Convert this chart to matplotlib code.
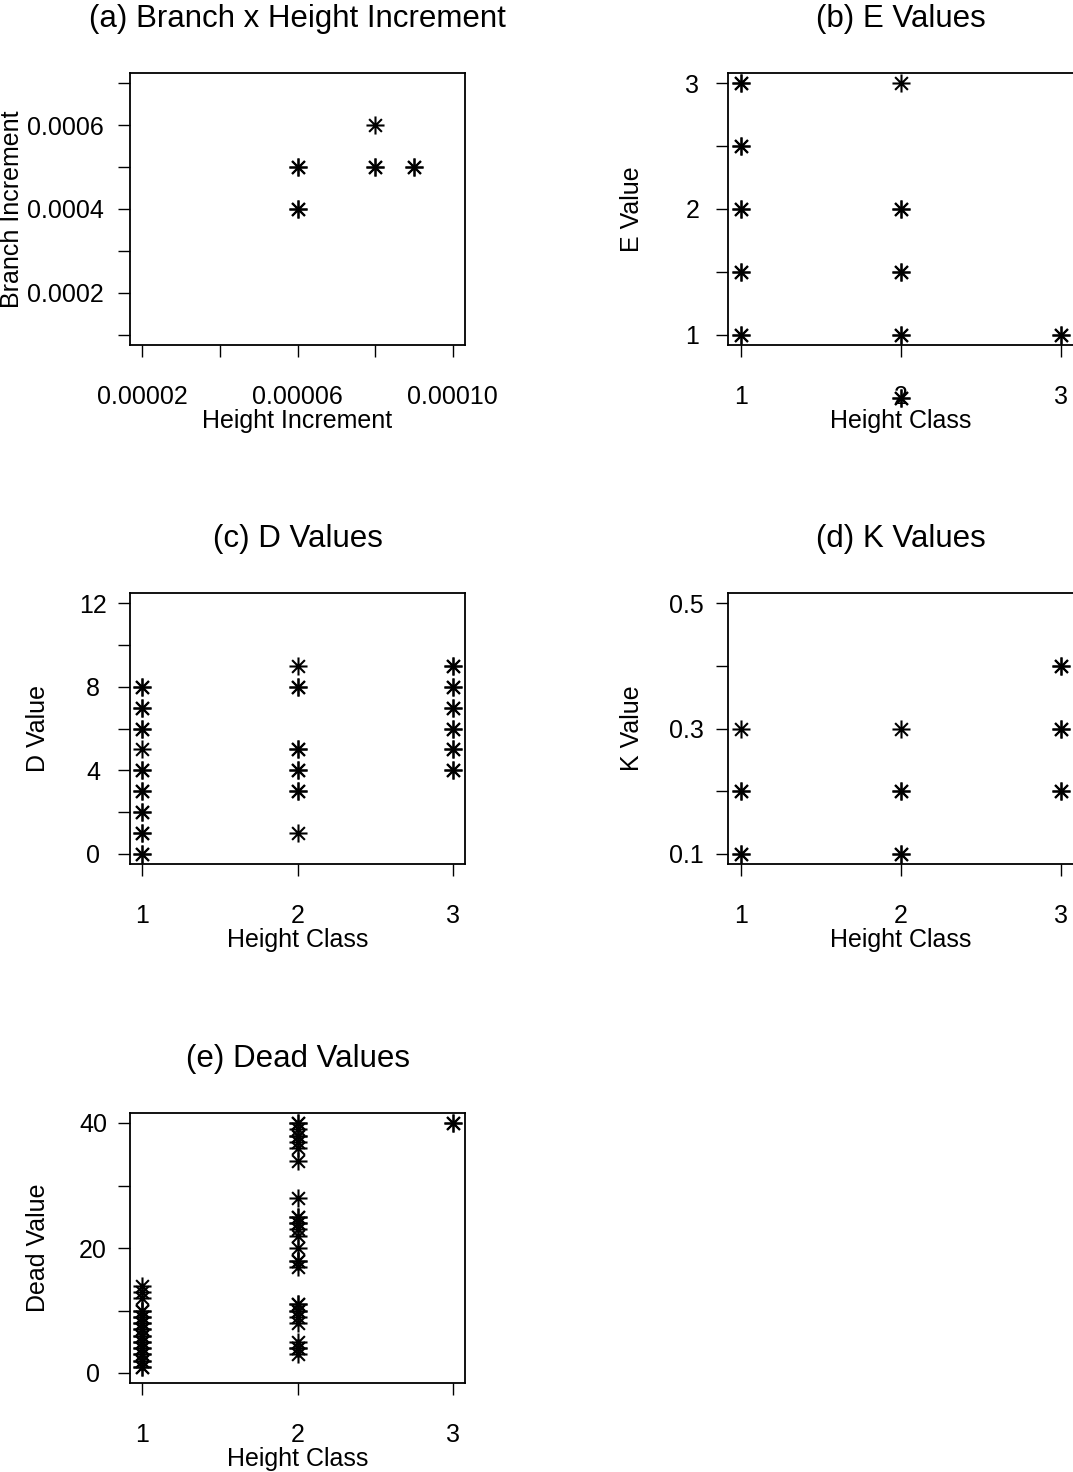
import numpy as np
import matplotlib
matplotlib.use('Agg')
import matplotlib.pyplot as plt
from matplotlib.path import Path

plt.rcParams['font.family'] = ['Liberation Sans', 'DejaVu Sans']

# (a) branch vs height increment
height_inc = [6e-5, 6e-5, 6e-5, 6e-5, 8e-5, 8e-5, 8e-5, 9e-5, 9e-5]
branch_inc = [5e-4, 5e-4, 4e-4, 4e-4, 6e-4, 5e-4, 5e-4, 5e-4, 5e-4]

# (b) E values
e_class = [1, 1, 1, 1, 1, 1, 1, 1, 1, 1, 2, 2, 2, 2, 2, 2, 2, 2, 2, 3, 3]
e_value = [3, 3, 2.5, 2.5, 2, 2, 1.5, 1.5, 1, 1, 3, 2, 2, 1.5, 1.5, 1, 1, 0.5, 0.5, 1, 1]

# (c) D values
d_class = [1] * 17 + [2] * 10 + [3] * 12
d_value = [0, 0, 1, 1, 2, 2, 3, 3, 4, 4, 5, 6, 6, 7, 7, 8, 8,
           9, 8, 8, 5, 5, 4, 4, 3, 3, 1,
           9, 9, 8, 8, 7, 7, 6, 6, 5, 5, 4, 4]

# (d) K values
k_class = [1] * 5 + [2] * 5 + [3] * 6
k_value = [0.3, 0.2, 0.2, 0.1, 0.1,
           0.3, 0.2, 0.2, 0.1, 0.1,
           0.4, 0.4, 0.3, 0.3, 0.2, 0.2]

# (e) Dead values
dead_c1 = [14, 13, 12, 10, 10, 9, 9, 8, 8, 7, 7, 6, 6, 5, 5, 4, 4, 3, 3, 2, 2, 1, 1]
dead_c2 = [40, 40, 39, 38, 38, 37, 36, 34, 28, 25, 25, 24, 24, 23, 22, 20, 18, 18, 17,
           11, 11, 10, 10, 9, 8, 5, 4, 4, 3]
dead_c3 = [40, 40]
dead_class = [1] * len(dead_c1) + [2] * len(dead_c2) + [3] * len(dead_c3)
dead_value = dead_c1 + dead_c2 + dead_c3

# asterisk marker like R pch=8
ang = np.deg2rad([0, 45, 90, 135])
verts = []
codes = []
for a in ang:
    verts += [(-np.cos(a), -np.sin(a)), (np.cos(a), np.sin(a))]
    codes += [Path.MOVETO, Path.LINETO]
star = Path(verts, codes)

W, H = 1073, 1472
fig = plt.figure(figsize=(W / 100, H / 100), dpi=100)

def make_ax(left, top, width, height):
    return fig.add_axes([left / W, 1 - (top + height) / H, width / W, height / H])

col_left = [130, 728]
col_width = [335, 345.6]
row_top = [73, 593, 1113]
row_h = [272, 271, 270]

def style(ax, title, xlabel, ylabel, ylab_x, yha, ypad):
    for s in ax.spines.values():
        s.set_linewidth(1.3)
    ax.tick_params(direction='out', length=8.6, width=1.0, labelsize=18)
    ax.tick_params(axis='x', pad=20)
    ax.tick_params(axis='y', pad=ypad)
    plt.setp(ax.get_yticklabels(), ha=yha)
    ax.set_title(title, fontsize=22.5, y=1.2, va='center', pad=0)
    ax.set_xlabel(xlabel, fontsize=18, va='center')
    ax.xaxis.set_label_coords(0.5, -0.28)
    ax.set_ylabel(ylabel, fontsize=18, va='center')
    ax.yaxis.set_label_coords(ylab_x, 0.5)

def pad_lim(lo, hi):
    d = (hi - lo) * 0.04
    return lo - d, hi + d

def draw(ax, x, y):
    ax.plot(x, y, ls='none', marker=star, ms=13, mfc='none', mec='black',
            mew=1.5, clip_on=False)

# (a)
ax = make_ax(col_left[0], row_top[0], col_width[0], row_h[0])
draw(ax, height_inc, branch_inc)
ax.set_xlim(*pad_lim(2e-5, 1e-4))
ax.set_ylim(*pad_lim(1e-4, 7e-4))
ax.set_xticks([2e-5, 4e-5, 6e-5, 8e-5, 1e-4], ['0.00002', '', '0.00006', '', '0.00010'])
ax.set_yticks([1e-4, 2e-4, 3e-4, 4e-4, 5e-4, 6e-4, 7e-4],
              ['', '0.0002', '', '0.0004', '', '0.0006', ''])
style(ax, '(a) Branch x Height Increment', 'Height Increment', 'Branch Increment',
      (12 - 130) / 335, 'right', 10)

# (b)
ax = make_ax(col_left[1], row_top[0], col_width[1], row_h[0])
draw(ax, e_class, e_value)
ax.set_xlim(*pad_lim(1, 3))
ax.set_ylim(*pad_lim(1, 3))
ax.set_xticks([1, 2, 3], ['1', '2', '3'])
ax.set_yticks([1, 1.5, 2, 2.5, 3], ['1', '', '2', '', '3'])
style(ax, '(b) E Values', 'Height Class', 'E Value', (632 - 728) / 345.6, 'center', 17)

# (c)
ax = make_ax(col_left[0], row_top[1], col_width[0], row_h[1])
draw(ax, d_class, d_value)
ax.set_xlim(*pad_lim(1, 3))
ax.set_ylim(*pad_lim(0, 12))
ax.set_xticks([1, 2, 3], ['1', '2', '3'])
ax.set_yticks([0, 2, 4, 6, 8, 10, 12], ['0', '', '4', '', '8', '', '12'])
style(ax, '(c) D Values', 'Height Class', 'D Value', (38 - 130) / 335, 'center', 18)

# (d)
ax = make_ax(col_left[1], row_top[1], col_width[1], row_h[1])
draw(ax, k_class, k_value)
ax.set_xlim(*pad_lim(1, 3))
ax.set_ylim(*pad_lim(0.1, 0.5))
ax.set_xticks([1, 2, 3], ['1', '2', '3'])
ax.set_yticks([0.1, 0.2, 0.3, 0.4, 0.5], ['0.1', '', '0.3', '', '0.5'])
style(ax, '(d) K Values', 'Height Class', 'K Value', (632 - 728) / 345.6, 'right', 9)

# (e)
ax = make_ax(col_left[0], row_top[2], col_width[0], row_h[2])
draw(ax, dead_class, dead_value)
ax.set_xlim(*pad_lim(1, 3))
ax.set_ylim(*pad_lim(0, 40))
ax.set_xticks([1, 2, 3], ['1', '2', '3'])
ax.set_yticks([0, 10, 20, 30, 40], ['0', '', '20', '', '40'])
style(ax, '(e) Dead Values', 'Height Class', 'Dead Value', (38 - 130) / 335, 'center', 18)

fig.savefig('out.png', dpi=100)
